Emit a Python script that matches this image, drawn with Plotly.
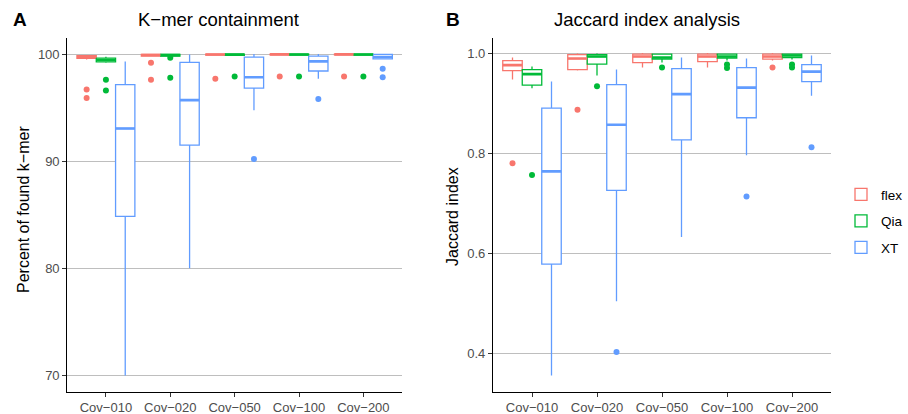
import plotly.graph_objects as go

W, H = 908, 414

categories = ["Cov−010", "Cov−020", "Cov−050", "Cov−100", "Cov−200"]
series = ["flex", "Qia", "XT"]
colors = {"flex": "#F8766D", "Qia": "#00BA38", "XT": "#619CFF"}

# ---- Panel A: K-mer containment (percent) ----
kmer_flex_lo = [99.5, 99.78, 99.88, 99.9, 99.9]
kmer_flex_q1 = [99.6, 99.82, 99.9, 99.92, 99.92]
kmer_flex_med = [99.72, 99.92, 99.96, 99.97, 99.97]
kmer_flex_q3 = [99.85, 99.98, 100.0, 100.0, 100.0]
kmer_flex_hi = [99.9, 100.0, 100.0, 100.0, 100.0]
kmer_flex_out_cat = [0, 0, 1, 1, 2, 3, 4]
kmer_flex_out_val = [96.7, 95.9, 99.2, 97.6, 97.7, 97.9, 97.9]

kmer_qia_lo = [99.2, 99.75, 99.85, 99.88, 99.88]
kmer_qia_q1 = [99.28, 99.8, 99.88, 99.9, 99.9]
kmer_qia_med = [99.45, 99.9, 99.95, 99.96, 99.96]
kmer_qia_q3 = [99.62, 99.98, 100.0, 100.0, 100.0]
kmer_qia_hi = [99.75, 100.0, 100.0, 100.0, 100.0]
kmer_qia_out_cat = [0, 0, 1, 1, 2, 3, 4]
kmer_qia_out_val = [97.6, 96.6, 99.65, 97.8, 97.9, 97.9, 97.9]

kmer_xt_lo = [70.0, 80.0, 94.75, 97.7, 99.5]
kmer_xt_q1 = [84.85, 91.5, 96.83, 98.42, 99.55]
kmer_xt_med = [93.05, 95.7, 97.83, 99.32, 99.72]
kmer_xt_q3 = [97.15, 99.23, 99.72, 99.8, 99.97]
kmer_xt_hi = [99.3, 99.95, 100.0, 100.0, 100.0]
kmer_xt_out_cat = [2, 3, 4, 4]
kmer_xt_out_val = [90.2, 95.8, 98.64, 97.83]

# ---- Panel B: Jaccard index ----
jac_flex_lo = [0.947, 0.965, 0.971, 0.971, 0.985]
jac_flex_q1 = [0.965, 0.967, 0.981, 0.983, 0.988]
jac_flex_med = [0.976, 0.989, 0.993, 0.993, 0.993]
jac_flex_q3 = [0.985, 0.997, 0.998, 0.998, 0.998]
jac_flex_hi = [0.991, 0.999, 1.0, 1.0, 1.0]
jac_flex_out_cat = [0, 1, 4]
jac_flex_out_val = [0.78, 0.887, 0.971]

jac_qia_lo = [0.93, 0.955, 0.981, 0.985, 0.987]
jac_qia_q1 = [0.936, 0.978, 0.988, 0.99, 0.991]
jac_qia_med = [0.958, 0.993, 0.991, 0.993, 0.995]
jac_qia_q3 = [0.967, 0.997, 0.998, 0.998, 0.998]
jac_qia_hi = [0.973, 0.999, 0.999, 0.999, 0.999]
jac_qia_out_cat = [0, 1, 2, 3, 3, 4, 4]
jac_qia_out_val = [0.757, 0.934, 0.971, 0.977, 0.970, 0.977, 0.971]

jac_xt_lo = [0.357, 0.505, 0.633, 0.796, 0.915]
jac_xt_q1 = [0.579, 0.726, 0.827, 0.871, 0.943]
jac_xt_med = [0.764, 0.857, 0.918, 0.931, 0.963]
jac_xt_q3 = [0.89, 0.937, 0.969, 0.971, 0.977]
jac_xt_hi = [0.943, 0.967, 0.991, 0.989, 0.995]
jac_xt_out_cat = [1, 3, 4]
jac_xt_out_val = [0.404, 0.714, 0.812]

panels = [
    ("x", "y", {
        "flex": (kmer_flex_lo, kmer_flex_q1, kmer_flex_med, kmer_flex_q3, kmer_flex_hi, kmer_flex_out_cat, kmer_flex_out_val),
        "Qia": (kmer_qia_lo, kmer_qia_q1, kmer_qia_med, kmer_qia_q3, kmer_qia_hi, kmer_qia_out_cat, kmer_qia_out_val),
        "XT": (kmer_xt_lo, kmer_xt_q1, kmer_xt_med, kmer_xt_q3, kmer_xt_hi, kmer_xt_out_cat, kmer_xt_out_val),
    }),
    ("x2", "y2", {
        "flex": (jac_flex_lo, jac_flex_q1, jac_flex_med, jac_flex_q3, jac_flex_hi, jac_flex_out_cat, jac_flex_out_val),
        "Qia": (jac_qia_lo, jac_qia_q1, jac_qia_med, jac_qia_q3, jac_qia_hi, jac_qia_out_cat, jac_qia_out_val),
        "XT": (jac_xt_lo, jac_xt_q1, jac_xt_med, jac_xt_q3, jac_xt_hi, jac_xt_out_cat, jac_xt_out_val),
    }),
]

fig = go.Figure()
for pi, (xa, ya, data) in enumerate(panels):
    # main boxes
    for s in series:
        lo, q1, med, q3, hi, oc, ov = data[s]
        fig.add_trace(go.Box(
            x=categories, q1=q1, median=med, q3=q3, lowerfence=lo, upperfence=hi,
            name=s, offsetgroup=s, alignmentgroup="g" + str(pi), legendgroup=s,
            showlegend=(pi == 0), boxpoints=False, whiskerwidth=0,
            line=dict(color=colors[s], width=1.3), fillcolor="white",
            xaxis=xa, yaxis=ya, hoverinfo="skip"))
    # thicker medians
    for s in series:
        lo, q1, med, q3, hi, oc, ov = data[s]
        fig.add_trace(go.Box(
            x=categories, q1=med, median=med, q3=med, lowerfence=med, upperfence=med,
            name=s, offsetgroup=s, alignmentgroup="g" + str(pi), legendgroup=s,
            showlegend=False, boxpoints=False, whiskerwidth=0,
            line=dict(color=colors[s], width=2.6), fillcolor="white",
            xaxis=xa, yaxis=ya, hoverinfo="skip"))
    # outliers
    for s in series:
        lo, q1, med, q3, hi, oc, ov = data[s]
        fig.add_trace(go.Box(
            x=[categories[i] for i in oc], y=ov,
            name=s, offsetgroup=s, alignmentgroup="g" + str(pi), legendgroup=s,
            showlegend=False, boxpoints="all", jitter=0, pointpos=0, whiskerwidth=0,
            line=dict(color=colors[s], width=0), fillcolor="rgba(0,0,0,0)",
            marker=dict(color=colors[s], size=6, line=dict(width=0)),
            xaxis=xa, yaxis=ya, hoverinfo="y"))

ydom = [1 - 391.5 / H, 1 - 38 / H]
axis_common = dict(showline=True, linecolor="black", linewidth=1.2, ticks="outside",
                   ticklen=4, tickcolor="#333333", tickwidth=1, zeroline=False, automargin=False,
                   tickfont=dict(family="Liberation Sans, Arial, sans-serif", size=13, color="#4D4D4D"))

fig.update_layout(
    width=W, height=H, margin=dict(l=0, r=0, t=0, b=0, autoexpand=False),
    paper_bgcolor="white", plot_bgcolor="white",
    boxmode="group", boxgap=0.1, boxgroupgap=0.0,
    font=dict(family="Liberation Sans, Arial, sans-serif", color="black"),
    xaxis=dict(domain=[67.3 / W, 402 / W], range=[-0.6, 4.6], type="category",
               categoryorder="array", categoryarray=categories, showgrid=False, anchor="y", **axis_common),
    yaxis=dict(domain=ydom, range=[68.5, 101.5], tickvals=[70, 80, 90, 100],
               showgrid=True, gridcolor="#BEBEBE", gridwidth=1, anchor="x", **axis_common),
    xaxis2=dict(domain=[493 / W, 831 / W], range=[-0.6, 4.6], type="category",
                categoryorder="array", categoryarray=categories, showgrid=False, anchor="y2", **axis_common),
    yaxis2=dict(domain=ydom, range=[0.325, 1.03], tickvals=[0.4, 0.6, 0.8, 1.0], ticktext=["0.4", "0.6", "0.8", "1.0"],
                showgrid=True, gridcolor="#BEBEBE", gridwidth=1, anchor="x2", **axis_common),
    legend=dict(x=1.0, y=1 - 179 / H, xanchor="right", yanchor="top",
                bgcolor="rgba(0,0,0,0)", font=dict(size=13.5, color="black"),
                traceorder="grouped", tracegroupgap=6),
)


def ann(text, px, py, size, bold=False, angle=0):
    fig.add_annotation(text=("<b>%s</b>" % text) if bold else text,
                       x=px / W, y=1 - py / H, xref="paper", yref="paper",
                       xanchor="center", yanchor="middle", showarrow=False,
                       textangle=angle, font=dict(size=size, color="black"))


ann("A", 20, 20, 19, bold=True)
ann("K−mer containment", 218, 20, 18.5)
ann("B", 453, 20, 19, bold=True)
ann("Jaccard index analysis", 647, 20, 18.5)
ann("Percent of found k−mer", 23, 210, 16, angle=-90)
ann("Jaccard index", 452, 217, 16, angle=-90)

fig.write_html("out.html", config={"displayModeBar": False},
               post_script="document.body.style.margin='0px';document.body.style.overflow='hidden';")
